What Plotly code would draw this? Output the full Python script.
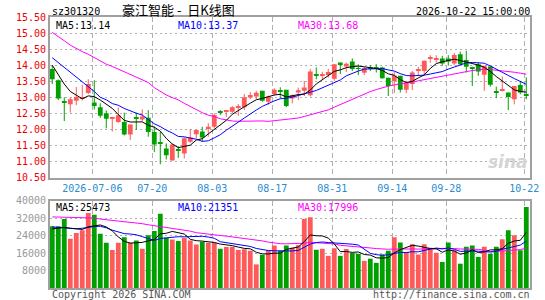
import plotly.graph_objects as go
import pandas as pd

# ---------------- data ----------------
holidays = ['2026-09-25', '2026-10-01', '2026-10-02', '2026-10-05', '2026-10-06', '2026-10-07']
dates = [d.strftime('%Y-%m-%d') for d in pd.bdate_range('2026-06-25', '2026-10-22')
         if d.strftime('%Y-%m-%d') not in holidays]

open_ = [13.88, 13.53, 12.86, 12.78, 12.89, 12.95, 13.13, 12.84, 12.69, 12.50,
         12.35, 12.23, 12.23, 11.84, 12.34, 12.31, 12.36, 11.92, 11.56, 11.40,
         11.03, 11.36, 11.25, 11.61, 11.85, 11.93, 12.01, 12.08, 12.53, 12.56,
         12.55, 12.68, 12.69, 12.99, 13.02, 13.20, 12.86, 13.09, 13.19, 13.23,
         12.96, 13.15, 13.20, 13.06, 13.70, 13.68, 13.69, 13.58, 14.08, 13.96,
         14.11, 13.89, 13.76, 13.91, 13.91, 13.93, 13.61, 13.51, 13.67, 13.23,
         13.41, 13.82, 13.82, 14.21, 14.17, 14.21, 14.21, 14.05, 14.34, 14.16,
         13.92, 14.03, 13.70, 13.96, 13.16, 13.22, 13.15, 12.94, 13.38, 13.09]
high = [13.98, 13.55, 13.00, 13.00, 13.32, 13.39, 13.56, 13.53, 12.81, 12.59,
        12.39, 12.68, 12.52, 12.15, 12.52, 12.62, 12.60, 12.10, 11.92, 11.56,
        11.56, 11.48, 11.75, 12.01, 12.00, 12.08, 12.19, 12.50, 12.60, 12.60,
        12.73, 12.79, 13.10, 13.16, 13.20, 13.20, 13.05, 13.28, 13.31, 13.23,
        13.09, 13.30, 13.51, 13.88, 13.93, 13.79, 13.88, 14.03, 14.08, 14.08,
        14.21, 14.03, 13.95, 14.00, 14.03, 13.95, 13.61, 13.79, 13.67, 13.51,
        13.82, 13.95, 14.14, 14.31, 14.31, 14.29, 14.31, 14.38, 14.42, 14.45,
        13.95, 14.08, 13.98, 13.96, 13.33, 13.65, 13.15, 13.35, 13.51, 13.62]
low = [13.41, 12.91, 12.26, 12.52, 12.75, 12.90, 13.10, 12.62, 12.36, 12.03,
       11.93, 12.20, 11.81, 11.67, 11.98, 12.25, 11.77, 11.29, 10.91, 11.06,
       11.03, 11.11, 11.09, 11.58, 11.72, 11.61, 11.77, 12.03, 12.45, 12.38,
       12.50, 12.42, 12.60, 12.94, 12.94, 12.86, 12.76, 13.05, 12.97, 12.69,
       12.81, 12.92, 13.04, 13.02, 13.56, 13.56, 13.61, 13.51, 13.72, 13.79,
       13.82, 13.69, 13.69, 13.82, 13.77, 13.58, 13.04, 13.13, 13.15, 13.13,
       13.22, 13.67, 13.70, 14.08, 14.08, 13.98, 13.98, 14.00, 14.00, 13.77,
       13.35, 13.67, 13.20, 13.33, 12.97, 13.18, 12.60, 12.78, 13.09, 12.94]
close = [13.56, 12.96, 12.85, 12.94, 13.01, 13.00, 13.41, 12.73, 12.42, 12.33,
         12.38, 12.44, 11.84, 12.15, 12.33, 12.40, 11.92, 11.53, 11.55, 11.19,
         11.53, 11.35, 11.72, 11.75, 11.98, 11.75, 12.08, 12.45, 12.52, 12.60,
         12.69, 12.71, 13.00, 13.07, 13.14, 12.89, 13.02, 13.23, 13.18, 12.73,
         13.06, 13.22, 13.30, 13.80, 13.69, 13.72, 13.79, 14.03, 14.03, 14.04,
         13.88, 13.88, 13.91, 13.90, 13.90, 13.59, 13.35, 13.67, 13.23, 13.46,
         13.77, 13.88, 14.14, 14.24, 14.21, 14.05, 14.11, 14.32, 14.03, 13.95,
         13.91, 13.80, 13.98, 13.39, 13.15, 13.25, 13.01, 13.35, 13.15, 13.04]
volume = [28220, 28220, 31540, 22480, 25200, 26400, 34250, 33500, 24750, 20670,
          17350, 20670, 23240, 20670, 21730, 17960, 24140, 26100, 33950, 22940,
          22180, 21430, 22940, 21730, 19920, 21130, 20670, 20670, 17960, 18710,
          18860, 17350, 17660, 17000, 10800, 15200, 17200, 19400, 17000, 19400,
          18400, 19600, 31500, 32400, 17500, 18000, 14700, 18200, 14700, 17800,
          16000, 15700, 12400, 13400, 11500, 15300, 17000, 23200, 20800, 16500,
          20000, 15300, 20000, 18400, 16100, 11900, 20800, 17300, 11100, 18900,
          19400, 14200, 18900, 15700, 18900, 22300, 26400, 24100, 17300, 37000]

# moving-average values before enough in-window history exists
ma5_head = [14.00, 13.72, 13.41, 13.18]
ma10_head = [14.23, 14.08, 13.93, 13.79, 13.65, 13.48, 13.35, 13.18, 13.00]
ma30_head = [15.02, 14.90, 14.76, 14.625, 14.52, 14.42, 14.34, 14.24, 14.14, 14.03,
             13.96, 13.875, 13.79, 13.70, 13.61, 13.54, 13.46, 13.30, 13.18, 13.07,
             12.99, 12.92, 12.81, 12.71, 12.625, 12.52, 12.44, 12.40, 12.33]
vma5_head = [27000, 27500, 27700, 27300]
vma10_head = [27900, 27700, 27500, 27200, 27100, 27300, 27800, 28100, 28200]
vma30_head = [32500, 32400, 32300, 32300, 32200, 32200, 32100, 32000, 31500, 31200,
              31000, 30800, 30500, 30200, 29800, 29400, 28900, 28500, 28000, 27600,
              27200, 26800, 26400, 26000, 25300, 24900, 24600, 24300, 24000]

price_ticks = [10.5, 11.0, 11.5, 12.0, 12.5, 13.0, 13.5, 14.0, 14.5, 15.0, 15.5]
vol_ticks = [8000, 16000, 24000, 32000, 40000]
date_ticks = ['2026-07-06', '2026-07-20', '2026-08-03', '2026-08-17',
              '2026-08-31', '2026-09-14', '2026-09-28', '2026-10-22']
date_tick_text = ['2026-07-06', '07-20', '08-03', '08-17', '08-31', '09-14', '09-28', '10-22']

stock_code = 'sz301320'
title_text = '豪江智能\u00a0-\u00a0\u00a0日K线图'
time_text = '2026-10-22 15:00:00'
price_ma_labels = ['MA5:13.14', 'MA10:13.37', 'MA30:13.68']
vol_ma_labels = ['MA5:25473', 'MA10:21351', 'MA30:17996']

# ---------------- helpers ----------------
def sma(vals, n, head):
    out = list(head)
    for i in range(len(head), len(vals)):
        out.append(sum(vals[i - n + 1:i + 1]) / n)
    return out

RED = '#ff5a5a'
GREEN = '#00a000'
MONO = 'DejaVu Sans Mono'

W, H = 545, 300
L, R, T, B = 50, 15, 17, 12
PW, PH = W - L - R, H - T - B
def px_x(px):
    return (px - L) / PW
def px_y(py):
    return (H - B - py) / PH

x = list(range(len(dates)))
colors = [RED if c > o else GREEN for o, c in zip(open_, close)]
body_base = [min(o, c) for o, c in zip(open_, close)]
body_h = [max(abs(c - o), 0.03) for o, c in zip(open_, close)]

fig = go.Figure()

# wicks
for col in (RED, GREEN):
    wx, wy = [], []
    for i in x:
        if colors[i] == col:
            wx += [i, i, None]
            wy += [low[i], high[i], None]
    fig.add_trace(go.Scatter(x=wx, y=wy, mode='lines', line=dict(color=col, width=1),
                             hoverinfo='skip', xaxis='x', yaxis='y'))

# bodies
fig.add_trace(go.Bar(x=x, y=body_h, base=body_base, width=0.8,
                     marker=dict(color=colors, line=dict(width=0)),
                     xaxis='x', yaxis='y'))

# price MAs
for vals, col in ((sma(close, 30, ma30_head), '#ff00ff'),
                  (sma(close, 10, ma10_head), '#0000ff'),
                  (sma(close, 5, ma5_head), '#000000')):
    fig.add_trace(go.Scatter(x=x, y=vals, mode='lines', line=dict(color=col, width=1),
                             xaxis='x', yaxis='y'))

# volume
fig.add_trace(go.Bar(x=x, y=volume, width=0.8,
                     marker=dict(color=colors, line=dict(width=0)),
                     xaxis='x2', yaxis='y2'))
for vals, col in ((sma(volume, 30, vma30_head), '#ff00ff'),
                  (sma(volume, 10, vma10_head), '#0000ff'),
                  (sma(volume, 5, vma5_head), '#000000')):
    fig.add_trace(go.Scatter(x=x, y=vals, mode='lines', line=dict(color=col, width=1),
                             xaxis='x2', yaxis='y2'))

tickpos = [dates.index(d) - 0.33 for d in date_ticks]
xr = [-0.38, len(dates) - 0.38]
grid = '#b0b0b0'
axline = '#a0a0a0'

price_dom = [px_y(177.5), 1.0]
vol_dom = [0.0, px_y(200.5)]

common = dict(showgrid=True, gridcolor=grid, gridwidth=1, showline=True, mirror=True,
              linecolor=axline, linewidth=2, ticks='', zeroline=False, automargin=False)

fig.update_layout(
    width=W, height=H, margin=dict(l=L, r=R, t=T, b=B, autoexpand=False),
    paper_bgcolor='white', plot_bgcolor='white', showlegend=False,
    barmode='overlay',
    xaxis=dict(domain=[0, 1], anchor='y', range=xr, tickmode='array', tickvals=tickpos,
               ticktext=date_tick_text, griddash='5px,3px',
               tickfont=dict(family=MONO, size=10, color='#2a8bd0'), **common),
    yaxis=dict(domain=price_dom, anchor='x', range=[10.5, 15.5], tickmode='array',
               tickvals=price_ticks, ticktext=['%.2f' % v for v in price_ticks],
               griddash='2px,3px',
               tickfont=dict(family=MONO, size=10, color='#ee0000'), **common),
    xaxis2=dict(domain=[0, 1], anchor='y2', range=xr, tickmode='array', tickvals=tickpos,
                showticklabels=False, griddash='5px,3px', **common),
    yaxis2=dict(domain=vol_dom, anchor='x2', range=[0, 40000], tickmode='array',
                tickvals=vol_ticks, ticktext=[str(v) for v in vol_ticks],
                griddash='2px,3px',
                tickfont=dict(family=MONO, size=10, color='#999999'), **common),
)

def text(t, px, py, anchor='left', color='#000', size=10, family=MONO):
    fig.add_annotation(text=t, x=px_x(px), y=px_y(py), xref='paper', yref='paper',
                       xanchor=anchor, yanchor='middle', showarrow=False,
                       font=dict(family=family, size=size, color=color))

text(stock_code, 50, 11)
text(title_text, 120, 10, anchor='left', size=13, family='Noto Sans CJK SC')
text(time_text, 532, 11, anchor='right')
ma_cols = ['#000000', '#0000ff', '#ff00ff']
for lab, px, col in zip(price_ma_labels, (54, 176, 296), ma_cols):
    text(lab, px, 25, color=col)
for lab, px, col in zip(vol_ma_labels, (54, 176, 296), ma_cols):
    text(lab, px, 207.5, color=col)
text('Copyright 2026 SINA.COM', 50, 294, color='#555555')
text('http://finance.sina.com.cn', 532, 294, anchor='right', color='#555555')
text('<b><i>sina</i></b>', 508, 162, anchor='center', color='#d4d4d4', size=17,
     family='DejaVu Sans')

fig.write_html('out.html')
